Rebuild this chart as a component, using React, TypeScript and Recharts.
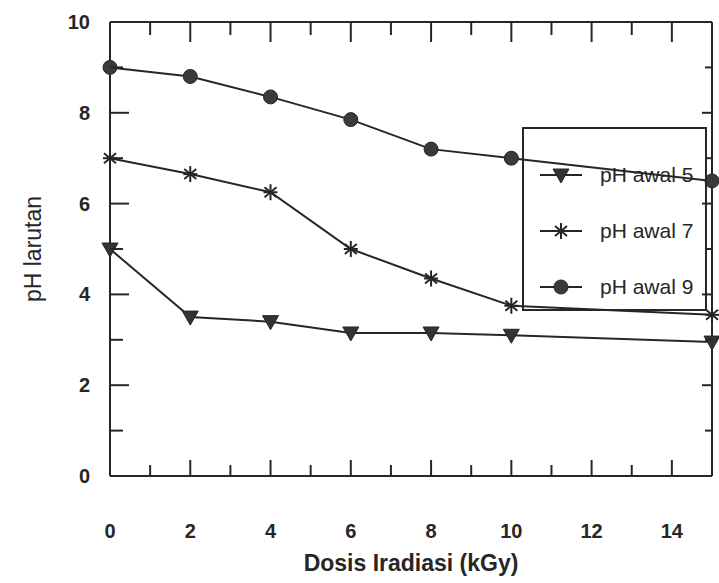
import React from 'react';
import { LineChart, Line, XAxis, YAxis, Legend } from 'recharts';

const doses = [0, 2, 4, 6, 8, 10, 15];
const ph5 = [5.0, 3.5, 3.4, 3.15, 3.15, 3.1, 2.95];
const ph7 = [7.0, 6.65, 6.25, 5.0, 4.35, 3.75, 3.55];
const ph9 = [9.0, 8.8, 8.35, 7.85, 7.2, 7.0, 6.5];

const xTicks = [0, 1, 2, 3, 4, 5, 6, 7, 8, 9, 10, 11, 12, 13, 14, 15];
const yTicks = [0, 1, 2, 3, 4, 5, 6, 7, 8, 9, 10];
const xLabels = [0, 2, 4, 6, 8, 10, 12, 14];
const yLabels = [0, 2, 4, 6, 8, 10];

const seriesNames = { ph5: 'pH awal 5', ph7: 'pH awal 7', ph9: 'pH awal 9' };

const data = doses.map((d, i) => ({ dose: d, ph5: ph5[i], ph7: ph7[i], ph9: ph9[i] }));

const INK = '#262626';
const FONT = '"Liberation Sans", Arial, sans-serif';

type Shape = 'tri' | 'star' | 'circle';

function Marker({ cx, cy, shape }: { cx: number; cy: number; shape: Shape }) {
  if (shape === 'tri') {
    return (
      <polygon
        points={`${cx - 8},${cy - 6} ${cx + 8},${cy - 6} ${cx},${cy + 8}`}
        fill="#333"
        stroke={INK}
        strokeWidth={1}
      />
    );
  }
  if (shape === 'star') {
    return (
      <g stroke={INK} strokeWidth={2}>
        <line x1={cx} y1={cy - 8} x2={cx} y2={cy + 8} />
        <line x1={cx - 6} y1={cy - 5} x2={cx + 6} y2={cy + 5} />
        <line x1={cx - 6} y1={cy + 5} x2={cx + 6} y2={cy - 5} />
        <line x1={cx - 7} y1={cy} x2={cx + 7} y2={cy} />
      </g>
    );
  }
  return <circle cx={cx} cy={cy} r={7} fill="#3a3a3a" stroke={INK} strokeWidth={1} />;
}

const makeDot = (shape: Shape) => (props: any) => {
  const { cx, cy, index } = props;
  if (cx == null || cy == null) return <g key={`d-${shape}-${index}`} />;
  return <Marker key={`d-${shape}-${index}`} cx={cx} cy={cy} shape={shape} />;
};

const BottomTick = (props: any) => {
  const { x, y, payload } = props;
  const v = payload.value;
  const major = v % 2 === 0;
  return (
    <g>
      <line x1={x} x2={x} y1={y} y2={y - (major ? 16 : 11)} stroke={INK} strokeWidth={2} />
      {xLabels.includes(v) && (
        <text x={x} y={y + 55} dy="0.35em" textAnchor="middle" fontFamily={FONT} fontWeight="bold" fontSize={20} fill={INK}>
          {v}
        </text>
      )}
    </g>
  );
};

const TopTick = (props: any) => {
  const { x, y, payload } = props;
  const major = payload.value % 2 === 0;
  return <line x1={x} x2={x} y1={y} y2={y + (major ? 20 : 13)} stroke={INK} strokeWidth={2} />;
};

const LeftTick = (props: any) => {
  const { x, y, payload } = props;
  const v = payload.value;
  const major = v % 2 === 0;
  return (
    <g>
      <line x1={x} x2={x + (major ? 19 : 13)} y1={y} y2={y} stroke={INK} strokeWidth={2} />
      {yLabels.includes(v) && (
        <text x={x - 20} y={y} dy="0.35em" textAnchor="end" fontFamily={FONT} fontWeight="bold" fontSize={20} fill={INK}>
          {v}
        </text>
      )}
    </g>
  );
};

const RightTick = (props: any) => {
  const { x, y, payload } = props;
  const major = payload.value % 2 === 0;
  return <line x1={x} x2={x - (major ? 10 : 7)} y1={y} y2={y} stroke={INK} strokeWidth={2} />;
};

const legendItems: { key: keyof typeof seriesNames; shape: Shape }[] = [
  { key: 'ph5', shape: 'tri' },
  { key: 'ph7', shape: 'star' },
  { key: 'ph9', shape: 'circle' },
];

const LegendBox = () => (
  <div
    style={{
      width: 185,
      height: 184,
      border: `2px solid ${INK}`,
      boxSizing: 'border-box',
      paddingTop: 18,
      fontFamily: FONT,
    }}
  >
    {legendItems.map((it) => (
      <div key={it.key} style={{ display: 'flex', alignItems: 'center', height: 56 }}>
        <svg width={76} height={24} style={{ flex: 'none' }}>
          <line x1={16} x2={58} y1={12} y2={12} stroke={INK} strokeWidth={2} />
          <Marker cx={37} cy={12} shape={it.shape} />
        </svg>
        <span style={{ fontSize: 21, color: INK, whiteSpace: 'nowrap' }}>{seriesNames[it.key]}</span>
      </div>
    ))}
  </div>
);

export default function App() {
  return (
    <div style={{ position: 'absolute', left: 0, top: 0, width: 719, height: 583, background: '#fff' }}>
      <LineChart width={719} height={583} data={data} margin={{ top: 21, right: 6, bottom: 0, left: 0 }}>
        <XAxis
          xAxisId="b"
          dataKey="dose"
          type="number"
          domain={[0, 15]}
          ticks={xTicks}
          interval={0}
          orientation="bottom"
          height={107}
          tickSize={0}
          tickMargin={0}
          tickLine={false}
          axisLine={{ stroke: INK, strokeWidth: 2 }}
          tick={<BottomTick />}
          label={{
            value: 'Dosis Iradiasi (kGy)',
            position: 'insideBottom',
            offset: 12,
            style: { fontFamily: FONT, fontWeight: 'bold', fontSize: 23, fill: INK },
          }}
        />
        <XAxis
          xAxisId="t"
          dataKey="dose"
          type="number"
          domain={[0, 15]}
          ticks={xTicks}
          interval={0}
          orientation="top"
          height={1}
          tickSize={0}
          tickMargin={0}
          tickLine={false}
          axisLine={{ stroke: INK, strokeWidth: 2 }}
          tick={<TopTick />}
        />
        <YAxis
          yAxisId="l"
          type="number"
          domain={[0, 10]}
          ticks={yTicks}
          interval={0}
          orientation="left"
          width={110}
          tickSize={0}
          tickMargin={0}
          tickLine={false}
          axisLine={{ stroke: INK, strokeWidth: 2 }}
          tick={<LeftTick />}
          label={{
            value: 'pH larutan',
            angle: -90,
            position: 'insideLeft',
            offset: 33,
            style: { fontFamily: FONT, fontSize: 23, fill: INK, textAnchor: 'middle' },
          }}
        />
        <YAxis
          yAxisId="r"
          type="number"
          domain={[0, 10]}
          ticks={yTicks}
          interval={0}
          orientation="right"
          width={1}
          tickSize={0}
          tickMargin={0}
          tickLine={false}
          axisLine={{ stroke: INK, strokeWidth: 2 }}
          tick={<RightTick />}
        />
        <Legend
          layout="horizontal"
          verticalAlign="middle"
          align="center"
          content={<LegendBox />}
          wrapperStyle={{ position: 'absolute', left: 522, top: 127, width: 185, height: 184 }}
        />
        {legendItems.map((it) => (
          <Line
            key={it.key}
            xAxisId="b"
            yAxisId="l"
            dataKey={it.key}
            name={seriesNames[it.key]}
            stroke={INK}
            strokeWidth={2}
            dot={makeDot(it.shape)}
            activeDot={false}
            isAnimationActive={false}
          />
        ))}
        <Line xAxisId="t" yAxisId="r" dataKey="ph9" stroke="none" dot={false} activeDot={false} legendType="none" isAnimationActive={false} />
      </LineChart>
    </div>
  );
}
